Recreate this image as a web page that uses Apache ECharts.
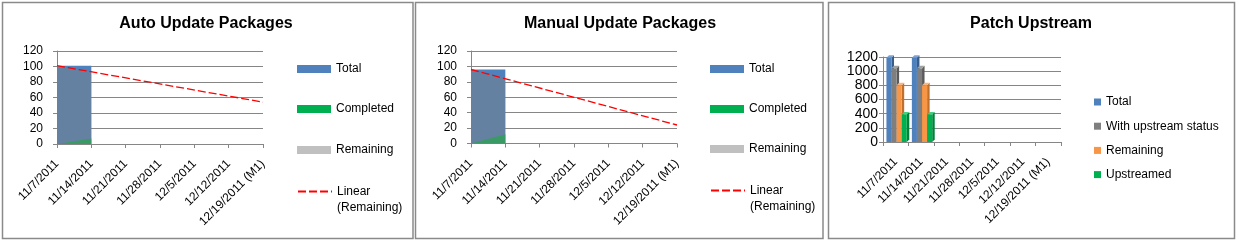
<!DOCTYPE html>
<html><head><meta charset="utf-8">
<script src="https://cdn.jsdelivr.net/npm/echarts@6/dist/echarts.min.js"></script>
<style>html,body{margin:0;padding:0;background:#fff}#c{width:1239px;height:243px}</style>
</head><body><div id="c"></div>
<script>
const categories = ['11/7/2011','11/14/2011','11/21/2011','11/28/2011','12/5/2011','12/12/2011','12/19/2011 (M1)'];
// Auto Update Packages
const autoTotal = [101, 101];
const autoCompleted = [0, 7];
const autoRemaining = [101, 93];
const autoTrend = [[0, 101], [6, 54]];
// Manual Update Packages
const manualTotal = [96, 96];
const manualCompleted = [0, 12];
const manualRemaining = [96, 84];
const manualTrend = [[0, 96], [6, 24]];
// Patch Upstream
const patchTotal = [1190, 1190];
const patchWithStatus = [1040, 1040];
const patchRemaining = [800, 800];
const patchUpstreamed = [390, 390];
const pkgTicks = {min: 0, max: 120, interval: 20};
const patchTicks = {min: 0, max: 1200, interval: 200};

const FONT = 'Liberation Sans';
const GRIDC = '#868686';
const chart = echarts.init(document.getElementById('c'), null, {renderer: 'canvas'});

function xAxisDef(gi, boundary) {
  return {type: 'category', gridIndex: gi, data: categories, boundaryGap: boundary,
    axisLine: {lineStyle: {color: GRIDC}}, axisTick: {show: true, length: 4, alignWithLabel: false, lineStyle: {color: GRIDC}},
    axisLabel: {interval: 0, rotate: 45, fontSize: 12, color: '#000', fontFamily: FONT, margin: 18},
    splitLine: {show: false}};
}
function yAxisDef(gi, t, fs, margin) {
  return {type: 'value', gridIndex: gi, min: t.min, max: t.max, interval: t.interval,
    axisLine: {show: true, lineStyle: {color: GRIDC}}, axisTick: {show: true, length: 4, lineStyle: {color: GRIDC}},
    axisLabel: {fontSize: fs, color: '#000', fontFamily: FONT, margin, formatter: v => String(v)},
    splitLine: {lineStyle: {color: GRIDC, width: 1}}};
}
function area(name, gi, data, color, fill, z) {
  return {type: 'line', name, xAxisIndex: gi, yAxisIndex: gi, data, symbol: 'none', z,
    itemStyle: {color}, lineStyle: {width: 0}, areaStyle: {color: fill, opacity: 1}};
}
function trend(name, gi, data) {
  return {type: 'line', name, xAxisIndex: gi, yAxisIndex: gi, data, symbol: 'none', z: 10,
    itemStyle: {color: '#FF0000', opacity: 0}, lineStyle: {color: '#FF0000', width: 1.3, type: [8, 3]}};
}
function legendBox(name, left, cy, icon, color) {
  const d = {name};
  if (icon) { d.icon = icon; d.itemStyle = {color}; } else { d.itemStyle = {opacity: 0}; }
  const multi = !icon;
  return {left, top: multi ? cy - 24 : cy - 7, padding: 0, orient: 'vertical', selectedMode: false,
    itemWidth: 34, itemHeight: 8, data: [d],
    formatter: multi ? (n => '\n' + n.trim()) : (n => n.trim()),
    textStyle: multi ? {fontSize: 12, fontFamily: FONT, color: '#000', lineHeight: 16}
                     : {fontSize: 12, fontFamily: FONT, color: '#000', lineHeight: 14}};
}
const LIN = 'Linear\n(Remaining)';

function bar3d(idx, front, side, top) {
  return function (params, api) {
    const ci = api.value(0), v = api.value(1);
    const p0 = api.coord([ci, 0]);
    const p1 = api.coord([ci, v]);
    const band = api.size([1, 0])[0];
    const w = band * 0.2;
    const left = p0[0] - band / 2 + band * 0.135 + idx * w;
    const d = 2.5;
    const b = p0[1], t = p1[1];
    return {type: 'group', children: [
      {type: 'polygon', shape: {points: [[left + w, t], [left + w + d, t - d], [left + w + d, b - d], [left + w, b]]}, style: {fill: side}},
      {type: 'polygon', shape: {points: [[left, t], [left + d, t - d], [left + w + d, t - d], [left + w, t]]}, style: {fill: top}},
      {type: 'rect', shape: {x: left, y: t, width: w, height: b - t}, style: {fill: front}}
    ]};
  };
}
function patchSeries(name, idx, vals, front, side, top) {
  return {type: 'custom', name, xAxisIndex: 2, yAxisIndex: 2, itemStyle: {color: front},
    data: vals.map((v, i) => [i, v]), encode: {x: 0, y: 1}, renderItem: bar3d(idx, front, side, top)};
}
const titleStyle = {fontSize: 16, fontWeight: 'bold', fontFamily: FONT, color: '#000'};

const option = {
  animation: false,
  title: [
    {text: 'Auto Update Packages', left: 206, top: 16, textAlign: 'center', padding: 0, textStyle: titleStyle},
    {text: 'Manual Update Packages', left: 620, top: 16, textAlign: 'center', padding: 0, textStyle: titleStyle},
    {text: 'Patch Upstream', left: 1031, top: 16, textAlign: 'center', padding: 0, textStyle: titleStyle}
  ],
  grid: [
    {left: 57, top: 51, width: 206, height: 93},
    {left: 471, top: 51, width: 206, height: 92.5},
    {left: 883, top: 57, width: 178, height: 85}
  ],
  xAxis: [xAxisDef(0, false), xAxisDef(1, false), xAxisDef(2, true)],
  yAxis: [yAxisDef(0, pkgTicks, 12, 14), yAxisDef(1, pkgTicks, 12, 14), yAxisDef(2, patchTicks, 14, 5)],
  legend: [
    legendBox('Total', 297, 69, 'rect', '#4F81BD'),
    legendBox('Completed', 297, 109, 'rect', '#00B050'),
    legendBox('Remaining', 297, 150, 'rect', '#C0C0C0'),
    legendBox(LIN, 297, 191.5, null, null),
    legendBox('Total ', 710, 69, 'rect', '#4F81BD'),
    legendBox('Completed ', 710, 109, 'rect', '#00B050'),
    legendBox('Remaining ', 710, 149, 'rect', '#C0C0C0'),
    legendBox(LIN + ' ', 710, 190.5, null, null),
    {left: 1094, top: 95, padding: 0, orient: 'vertical', selectedMode: false, itemWidth: 7, itemHeight: 7, itemGap: 10.2,
      textStyle: {fontSize: 12, fontFamily: FONT, color: '#000', lineHeight: 14},
      formatter: n => n.trim(),
      data: [
        {name: 'Total  ', icon: 'rect', itemStyle: {color: '#4F81BD'}},
        {name: 'With upstream status', icon: 'rect', itemStyle: {color: '#7F7F7F'}},
        {name: 'Remaining  ', icon: 'rect', itemStyle: {color: '#F79646'}},
        {name: 'Upstreamed', icon: 'rect', itemStyle: {color: '#00B050'}}
      ]}
  ],
  graphic: [
    {type: 'rect', shape: {x: 2.5, y: 2.5, width: 410.5, height: 236}, style: {fill: null, stroke: '#8a8a8a', lineWidth: 1.5}, silent: true},
    {type: 'rect', shape: {x: 415.5, y: 2.5, width: 407.5, height: 236}, style: {fill: null, stroke: '#8a8a8a', lineWidth: 1.5}, silent: true},
    {type: 'rect', shape: {x: 828.5, y: 2.5, width: 406, height: 236}, style: {fill: null, stroke: '#8a8a8a', lineWidth: 1.5}, silent: true}
  ],
  series: [
    area('Total', 0, autoTotal, '#4F81BD', '#4F81BD', 1),
    area('Completed', 0, autoCompleted, '#00B050', '#00B050', 2),
    area('Remaining', 0, autoRemaining, '#C0C0C0', 'rgba(128,128,128,0.45)', 3),
    trend(LIN, 0, autoTrend),
    area('Total ', 1, manualTotal, '#4F81BD', '#4F81BD', 1),
    area('Completed ', 1, manualCompleted, '#00B050', '#00B050', 2),
    area('Remaining ', 1, manualRemaining, '#C0C0C0', 'rgba(128,128,128,0.45)', 3),
    trend(LIN + ' ', 1, manualTrend),
    patchSeries('Total  ', 0, patchTotal, '#4F81BD', '#385D8A', '#7EA2D3'),
    patchSeries('With upstream status', 1, patchWithStatus, '#7F7F7F', '#5A5A5A', '#A0A0A0'),
    patchSeries('Remaining  ', 2, patchRemaining, '#F79646', '#C0702C', '#FAB67E'),
    patchSeries('Upstreamed', 3, patchUpstreamed, '#00B050', '#00803A', '#40D080')
  ]
};
chart.setOption(option);
</script></body></html>
